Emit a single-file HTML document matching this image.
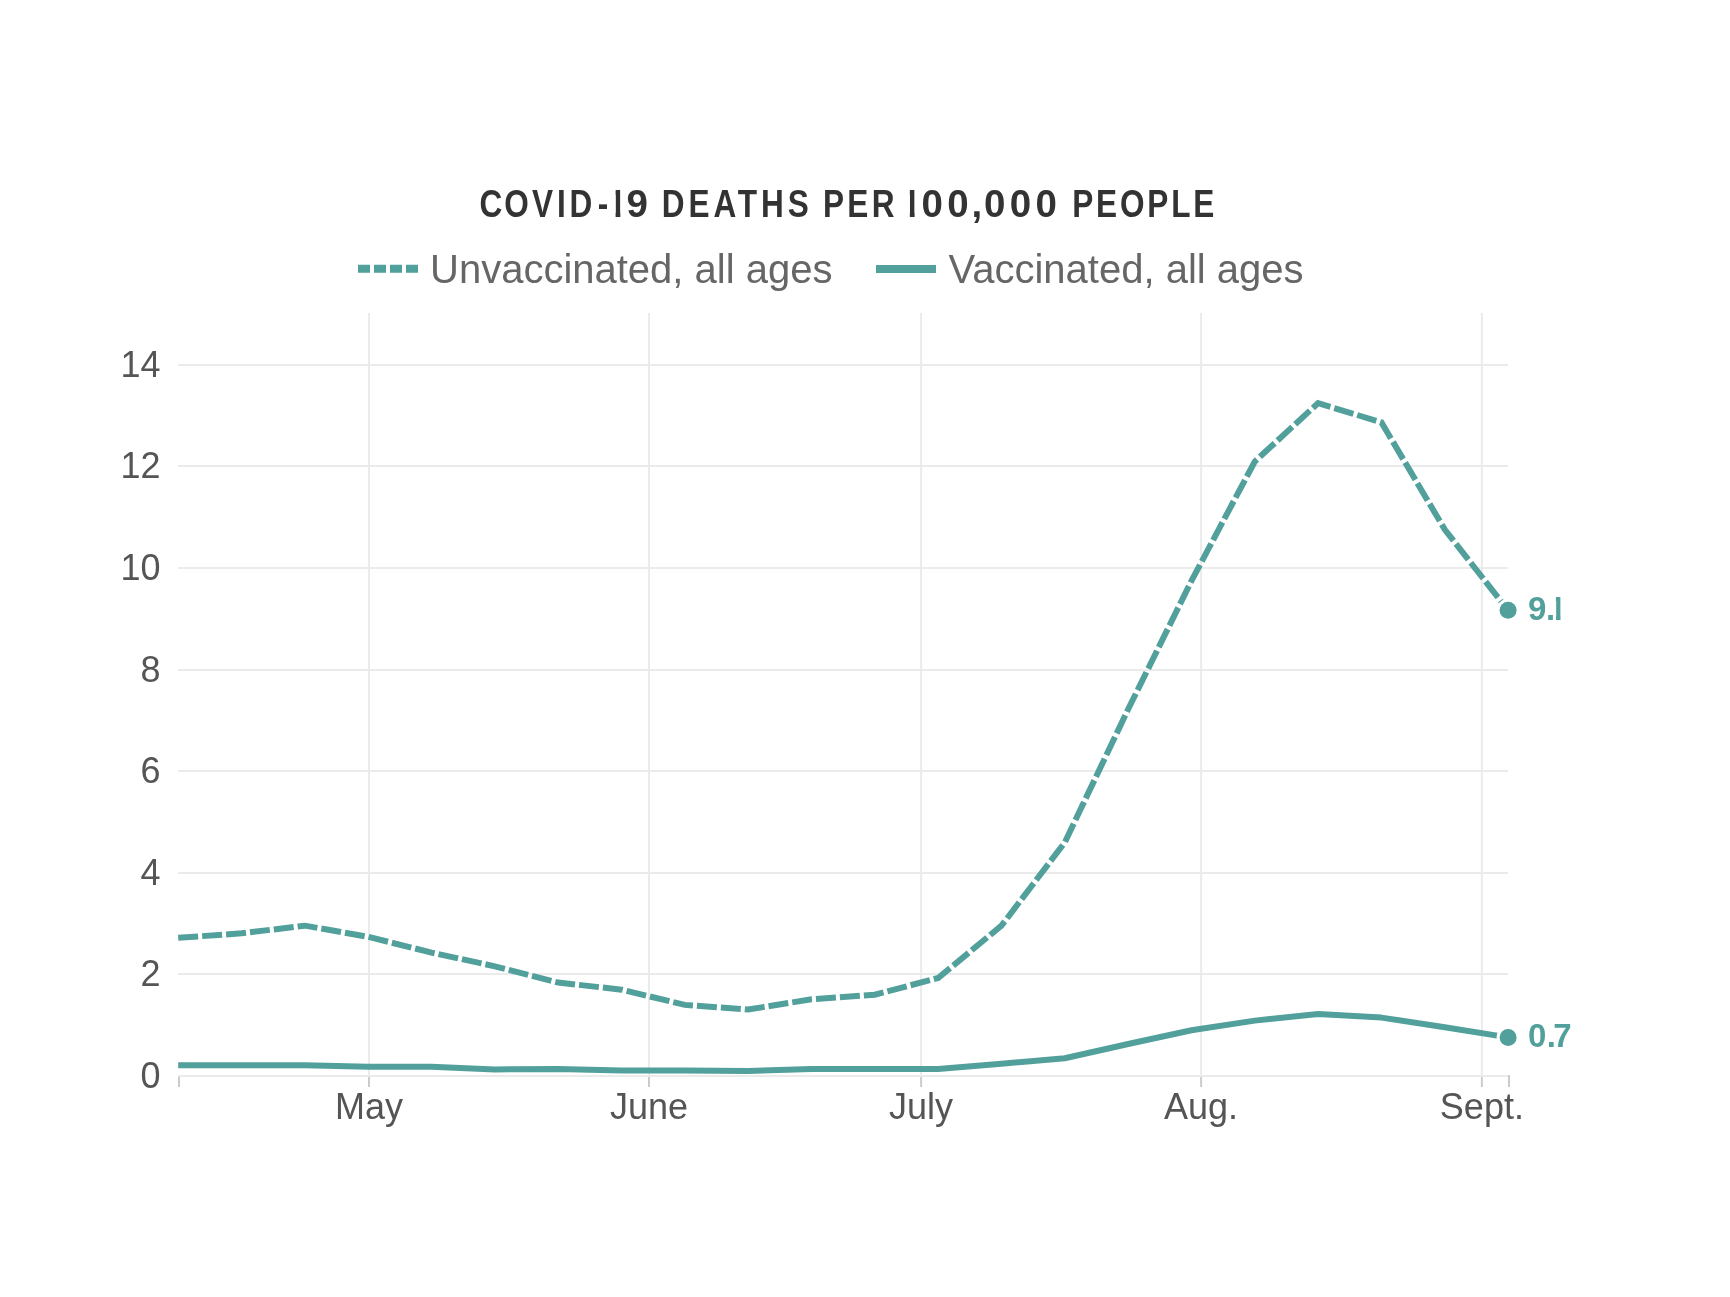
<!DOCTYPE html>
<html><head><meta charset="utf-8"><style>
html,body{margin:0;padding:0;background:#fff;}
body{width:1730px;height:1297px;overflow:hidden;position:relative;}
svg{position:absolute;left:0;top:0;will-change:transform;}
.t{font-family:"Liberation Sans",sans-serif;}
</style></head><body>
<svg width="1730" height="1297" viewBox="0 0 1730 1297">
<rect width="1730" height="1297" fill="#fff"/>
<defs>
<clipPath id="c1"><rect x="615.6" y="180" width="4.75" height="45"/></clipPath>
<clipPath id="c2"><rect x="909.85" y="180" width="4.75" height="45"/></clipPath>
<clipPath id="c3"><rect x="1555.9" y="590" width="4.6" height="35"/></clipPath>
</defs>
<g class="t" font-size="38.5" fill="#333" font-weight="bold">
<text transform="translate(479.6,217.3) scale(0.82,1)" letter-spacing="4.675">C<tspan dx="-2.38">O</tspan><tspan dx="-0.67">V</tspan><tspan dx="0.12">I</tspan><tspan dx="-0.3">D</tspan><tspan dx="2.0">-</tspan></text>
<g clip-path="url(#c1)"><text transform="translate(607.5,217.3) scale(0.9,1)">1</text></g>
<text x="626.6" y="217.3">9</text>
<text transform="translate(661.7,217.3) scale(0.82,1)" letter-spacing="4.79">DEATHS</text>
<text transform="translate(822.9,217.3) scale(0.82,1)" letter-spacing="4.12">PER</text>
<g clip-path="url(#c2)"><text transform="translate(901.8,217.3) scale(0.9,1)">1</text></g>
<text y="217.3"><tspan x="921.4">0</tspan><tspan x="947.2">0</tspan><tspan x="971.5">,</tspan><tspan x="984">0</tspan><tspan x="1009.8">0</tspan><tspan x="1035.6">0</tspan></text>
<text transform="translate(1072.2,217.3) scale(0.82,1)" letter-spacing="3.45">PEOPLE</text>
</g>
<line x1="358" x2="418" y1="268.8" y2="268.8" stroke="#52a09b" stroke-width="8" stroke-dasharray="12 4"/>
<line x1="876" x2="936" y1="269" y2="269" stroke="#52a09b" stroke-width="8"/>
<g class="t" font-size="40" fill="#666">
<text x="430" y="283">Unvaccinated, all ages</text>
<text x="948.5" y="283">Vaccinated, all ages</text>
</g>
<line x1="369.00" x2="369.00" y1="1075" y2="1087" stroke="#cccccc" stroke-width="2"/><line x1="649.00" x2="649.00" y1="1075" y2="1087" stroke="#cccccc" stroke-width="2"/><line x1="921.10" x2="921.10" y1="1075" y2="1087" stroke="#cccccc" stroke-width="2"/><line x1="1201.10" x2="1201.10" y1="1075" y2="1087" stroke="#cccccc" stroke-width="2"/><line x1="1481.90" x2="1481.90" y1="1075" y2="1087" stroke="#cccccc" stroke-width="2"/><line x1="179.00" x2="179.00" y1="1075" y2="1087" stroke="#cccccc" stroke-width="2"/><line x1="1509.00" x2="1509.00" y1="1075" y2="1087" stroke="#cccccc" stroke-width="2"/>
<line x1="178" x2="1508" y1="1076.00" y2="1076.00" stroke="#ebebeb" stroke-width="2"/><line x1="178" x2="1508" y1="974.00" y2="974.00" stroke="#ebebeb" stroke-width="2"/><line x1="178" x2="1508" y1="873.00" y2="873.00" stroke="#ebebeb" stroke-width="2"/><line x1="178" x2="1508" y1="771.00" y2="771.00" stroke="#ebebeb" stroke-width="2"/><line x1="178" x2="1508" y1="670.00" y2="670.00" stroke="#ebebeb" stroke-width="2"/><line x1="178" x2="1508" y1="568.00" y2="568.00" stroke="#ebebeb" stroke-width="2"/><line x1="178" x2="1508" y1="466.00" y2="466.00" stroke="#ebebeb" stroke-width="2"/><line x1="178" x2="1508" y1="365.00" y2="365.00" stroke="#ebebeb" stroke-width="2"/>
<line x1="369.00" x2="369.00" y1="313" y2="1076" stroke="#ebebeb" stroke-width="2"/><line x1="649.00" x2="649.00" y1="313" y2="1076" stroke="#ebebeb" stroke-width="2"/><line x1="921.10" x2="921.10" y1="313" y2="1076" stroke="#ebebeb" stroke-width="2"/><line x1="1201.10" x2="1201.10" y1="313" y2="1076" stroke="#ebebeb" stroke-width="2"/><line x1="1481.90" x2="1481.90" y1="313" y2="1076" stroke="#ebebeb" stroke-width="2"/>
<g class="t" font-size="36" fill="#555555">
<text x="160.5" y="1088.00" text-anchor="end">0</text><text x="160.5" y="986.00" text-anchor="end">2</text><text x="160.5" y="885.00" text-anchor="end">4</text><text x="160.5" y="783.00" text-anchor="end">6</text><text x="160.5" y="682.00" text-anchor="end">8</text><text x="160.5" y="580.00" text-anchor="end">10</text><text x="160.5" y="478.00" text-anchor="end">12</text><text x="160.5" y="377.00" text-anchor="end">14</text>
</g>
<g class="t" font-size="36" fill="#555555">
<text x="369.00" y="1119" text-anchor="middle">May</text><text x="649.00" y="1119" text-anchor="middle">June</text><text x="921.10" y="1119" text-anchor="middle">July</text><text x="1201.10" y="1119" text-anchor="middle">Aug.</text><text x="1481.90" y="1119" text-anchor="middle">Sept.</text>
</g>
<polyline points="178.20,937.86 241.53,933.29 304.86,925.67 368.19,936.85 431.51,952.59 494.84,966.30 558.17,982.55 621.50,989.66 684.83,1004.90 748.16,1009.47 811.49,999.31 874.81,994.74 938.14,977.98 1001.47,925.67 1064.80,842.39 1128.13,709.33 1191.46,580.84 1254.79,461.49 1318.11,403.09 1381.44,422.39 1444.77,529.55 1508.10,610.30" fill="none" stroke="#52a09b" stroke-width="6" stroke-dasharray="20 4" stroke-linejoin="miter"/>
<polyline points="178.20,1065.34 241.53,1065.34 304.86,1065.34 368.19,1066.86 431.51,1066.86 494.84,1069.40 558.17,1068.89 621.50,1070.41 684.83,1070.41 748.16,1070.92 811.49,1068.89 874.81,1068.89 938.14,1069.09 1001.47,1063.81 1064.80,1058.22 1128.13,1044.01 1191.46,1030.29 1254.79,1020.64 1318.11,1014.04 1381.44,1017.60 1444.77,1027.25 1508.10,1037.40" fill="none" stroke="#52a09b" stroke-width="6" stroke-linejoin="round"/>
<circle cx="1508.10" cy="610.30" r="11.5" fill="#fff"/>
<circle cx="1508.10" cy="610.30" r="8.5" fill="#52a09b"/>
<circle cx="1508.10" cy="1037.40" r="11.5" fill="#fff"/>
<circle cx="1508.10" cy="1037.40" r="8.5" fill="#52a09b"/>
<g class="t" font-size="33" fill="#52a09b" font-weight="bold">
<text y="619.8"><tspan x="1528">9</tspan><tspan x="1545.9">.</tspan></text>
<text x="1548.4" y="619.8" clip-path="url(#c3)">1</text>
<text y="1047"><tspan x="1528">0</tspan><tspan x="1546.8">.</tspan><tspan x="1553.2">7</tspan></text>
</g>
</svg>
</body></html>
